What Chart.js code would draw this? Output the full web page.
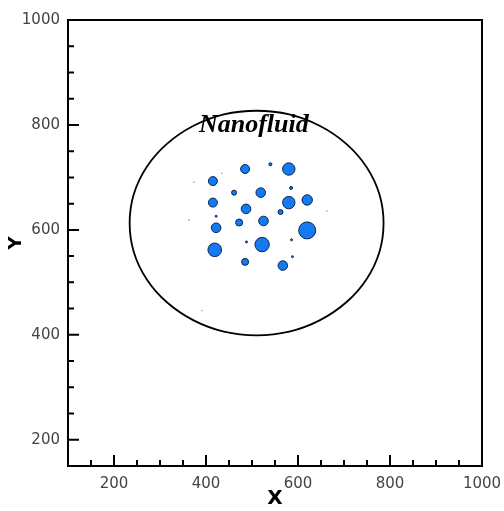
<!DOCTYPE html>
<html>
<head>
<meta charset="utf-8">
<script src="https://cdn.jsdelivr.net/npm/chart.js@4"></script>
<style>
  html, body { margin: 0; padding: 0; background: #fff; }
  #wrap { width: 504px; height: 511px; }
</style>
</head>
<body>
<div id="wrap"><canvas id="myChart"></canvas></div>
<script>
// tick labels
const xTicks = [200, 400, 600, 800, 1000];
const yTicks = [200, 400, 600, 800, 1000];

// nanoparticles (centre x, centre y, radius in px)
const particleX = [485, 540, 580, 415, 461, 519, 585, 415, 580, 620, 487, 562, 422, 525, 472, 422, 620, 586, 488, 522, 419, 588, 485, 567];
const particleY = [716, 725, 716, 693, 671, 671, 680, 652, 652, 657, 640, 634, 626, 617, 614, 604, 599, 581, 577, 572, 562, 549, 539, 532];
const particleR = [4.5, 1.5, 6.2, 4.5, 2.5, 4.8, 1.5, 4.5, 6.2, 5.2, 4.8, 2.5, 1, 4.8, 3.5, 4.8, 8.5, 1, 1, 7.2, 6.8, 1, 3.5, 4.8];

// droplet boundary (ends overlap so the seam stays smooth)
const boundaryX = [777, 786, 777, 749, 705, 648, 581, 510, 439, 372, 315, 271, 243, 234, 243, 271, 315, 372, 439, 510, 581, 648, 705, 749, 777, 786, 777];
const boundaryY = [558, 613, 668, 720, 764, 798, 820, 827, 820, 798, 764, 720, 668, 613, 558, 506, 462, 428, 406, 399, 406, 428, 462, 506, 558, 613, 668];

// faint specks
const speckX = [374, 363, 435, 663, 391];
const speckY = [691, 619, 708, 636, 446];

const label = { text: 'Nanofluid', x: 504, y: 786 };

const framePlugin = {
    id: 'frame',
    afterDatasetsDraw(chart) {
        const { ctx, chartArea: a, scales: { x, y } } = chart;
        ctx.save();
        ctx.strokeStyle = '#000';
        ctx.lineWidth = 2;
        ctx.strokeRect(a.left, a.top, a.right - a.left, a.bottom - a.top);
        ctx.beginPath();
        for (let v = 150; v < 1000; v += 50) {
            const px = x.getPixelForValue(v);
            const len = v % 200 === 0 ? 11 : 6;
            ctx.moveTo(px, a.bottom);
            ctx.lineTo(px, a.bottom - len);
        }
        for (let v = 200; v < 1000; v += 50) {
            const py = y.getPixelForValue(v);
            const len = v % 200 === 0 ? 11 : 6;
            ctx.moveTo(a.left, py);
            ctx.lineTo(a.left + len, py);
        }
        ctx.stroke();

        ctx.font = 'bold italic 26px "Liberation Serif"';
        ctx.fillStyle = '#000';
        ctx.textAlign = 'center';
        ctx.textBaseline = 'alphabetic';
        ctx.fillText(label.text, x.getPixelForValue(label.x), y.getPixelForValue(label.y));
        ctx.restore();
    }
};

const tickFont = { family: 'DejaVu Sans', size: 15 };
const lastSeg = boundaryX.length - 1;

let ctx = document.getElementById('myChart').getContext('2d');
let myChart = new Chart(ctx, {
    type: 'bubble',
    data: {
        datasets: [
            {
                type: 'scatter',
                data: boundaryX.map((v, i) => ({ x: v, y: boundaryY[i] })),
                showLine: true,
                tension: 0.4,
                borderColor: '#000',
                borderWidth: 1.8,
                pointRadius: 0,
                fill: false,
                segment: {
                    borderColor: c => (c.p0DataIndex === 0 || c.p1DataIndex === lastSeg) ? 'rgba(0,0,0,0)' : '#000'
                }
            },
            {
                type: 'scatter',
                data: speckX.map((v, i) => ({ x: v, y: speckY[i] })),
                pointRadius: 0.8,
                borderWidth: 0,
                backgroundColor: '#999'
            },
            {
                data: particleX.map((v, i) => ({ x: v, y: particleY[i], r: particleR[i] })),
                backgroundColor: '#137af2',
                borderColor: '#0c2350',
                borderWidth: 1
            }
        ]
    },
    options: {
        responsive: true,
        maintainAspectRatio: false,
        animation: false,
        layout: { padding: { left: 0, top: 20, right: 22, bottom: 0 } },
        plugins: { legend: { display: false }, tooltip: { enabled: false } },
        scales: {
            x: {
                type: 'linear',
                min: 100,
                max: 1000,
                afterBuildTicks: s => { s.ticks = xTicks.map(v => ({ value: v })); },
                afterFit: s => { s.height = 45; s.paddingLeft = 0; s.paddingRight = 0; },
                grid: { display: false, drawTicks: false },
                border: { display: false },
                ticks: { font: tickFont, color: '#444', padding: 9, maxRotation: 0, callback: v => String(v) },
                title: { display: true, text: 'X', color: '#000', font: { family: 'DejaVu Sans', size: 20, weight: 'bold' }, padding: { top: 0, bottom: 0 } }
            },
            y: {
                type: 'linear',
                min: 150,
                max: 1000,
                afterBuildTicks: s => { s.ticks = yTicks.map(v => ({ value: v })); },
                afterFit: s => { s.width = 68; s.paddingTop = 0; s.paddingBottom = 0; },
                grid: { display: false, drawTicks: false },
                border: { display: false },
                ticks: { font: tickFont, color: '#444', padding: 8, callback: v => String(v) },
                title: { display: true, text: 'Y', color: '#000', font: { family: 'DejaVu Sans', size: 18, weight: 'bold' }, padding: { top: 6, bottom: 0 } }
            }
        }
    },
    plugins: [framePlugin]
});
</script>
</body>
</html>
